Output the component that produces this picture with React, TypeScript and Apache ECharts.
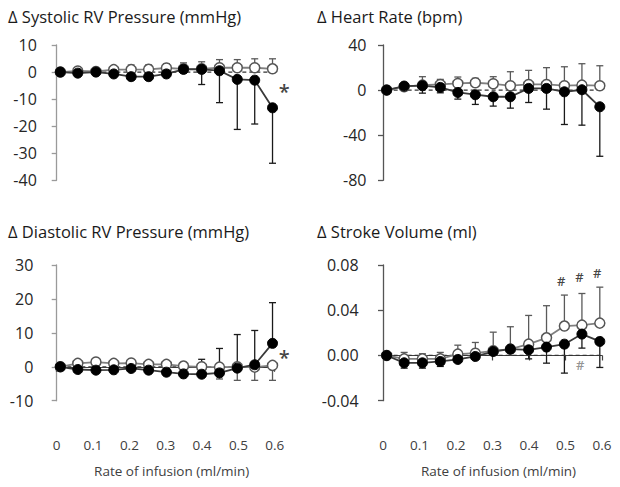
import React, { useEffect, useRef } from "react";
import * as echarts from "echarts";

// x positions of the 13 infusion steps (ml/min)
const xs = [0.01, 0.058, 0.108, 0.157, 0.205, 0.253, 0.302, 0.349, 0.399, 0.448, 0.497, 0.545, 0.594];
const xTicks = [0, 0.1, 0.2, 0.3, 0.4, 0.5, 0.6];

// Δ Systolic RV Pressure (mmHg)
const sysFilled = [0, -0.4, 0, -0.7, -1.7, -1.7, -0.7, 1.0, 1.0, 0.5, -2.7, -3.0, -13.2];
const sysFilledErr = [0, 0.5, 0.6, 0.8, 0.8, 0.8, 0.8, 1.2, 5.6, 11.8, 18.5, 16.2, 20.5];
const sysOpen = [0, 0.4, 0.2, 0.9, 0.9, 1.0, 1.5, 1.2, 1.2, 1.6, 1.6, 1.6, 1.2];
const sysOpenErr = [0, 0.6, 1.4, 1.1, 1.7, 1.6, 1.5, 2.2, 2.6, 3.0, 3.0, 3.3, 3.7];

// Δ Heart Rate (bpm)
const hrFilled = [0, 3.6, 3.9, 2.4, -2.1, -4.1, -5.9, -5.9, 1.5, 1.5, -1.5, 0.3, -14.8];
const hrFilledErr = [0, 2, 6.6, 4.8, 5.9, 8.6, 8.3, 10.1, 12.5, 18.4, 29.0, 31.4, 43.9];
const hrOpen = [0, 3.0, 4.4, 5.0, 5.9, 6.5, 5.6, 3.9, 5.0, 5.0, 3.9, 4.4, 3.9];
const hrOpenErr = [0, 2, 7.5, 4.5, 5.7, 3.9, 6.3, 12.4, 12.5, 14.9, 16.8, 19.0, 17.7];

// Δ Diastolic RV Pressure (mmHg)
const diaFilled = [0, -0.8, -1.0, -0.9, -0.5, -1.0, -1.6, -2.1, -2.2, -1.8, -0.4, 0.6, 6.9];
const diaFilledErr = [0, 0.8, 0.8, 0.8, 0.6, 2.7, 1.0, 1.5, 4.4, 7.2, 9.9, 10.1, 12.0];
const diaOpen = [0, 1.0, 1.4, 1.0, 1.1, 0.7, 0.7, 0.2, 0, -0.1, 0, -0.1, 0.4];
const diaOpenErr = [0, 0.5, 0.5, 0.5, 0.5, 0.5, 0.5, 0.5, 1.0, 3.5, 4.0, 3.9, 4.4];

// Δ Stroke Volume (ml)
const svFilled = [0, -0.0065, -0.0065, -0.0053, -0.0035, -0.0009, 0.0035, 0.0056, 0.005, 0.0074, 0.010, 0.0189, 0.0124];
const svFilledErr = [0, 0.0047, 0.0047, 0.0044, 0.0025, 0.002, 0.002, 0.002, 0.008, 0.0142, 0.0256, 0.0124, 0.023];
const svOpen = [0, -0.003, -0.003, -0.003, 0.0012, 0.002, 0.0041, 0.0056, 0.010, 0.0156, 0.026, 0.0268, 0.0286];
const svOpenErr = [0, 0.0057, 0.0045, 0.0057, 0.0079, 0.0095, 0.0165, 0.0198, 0.0254, 0.0284, 0.0274, 0.028, 0.0318];

// significance marks
const sysStar = [[0.626, -7]];
const diaStar = [[0.626, 2.7]];
const svHashTop = [[0.488, 0.066], [0.538, 0.069], [0.587, 0.073]];
const svHashLow = [[0.54, -0.0085]];

const titles = [
  "Δ Systolic RV Pressure (mmHg)",
  "Δ Heart Rate (bpm)",
  "Δ Diastolic RV Pressure (mmHg)",
  "Δ Stroke Volume (ml)",
];

const FONT = '"Open Sans", sans-serif';

function errorSeries(idx: number, vals: number[], errs: number[], dir: number, color: string) {
  return {
    type: "custom",
    xAxisIndex: idx,
    yAxisIndex: idx,
    silent: true,
    clip: false,
    encode: { x: 0, y: [1, 2] },
    data: xs.map((x, i) => [x, vals[i], vals[i] + dir * errs[i]]),
    renderItem: (params: any, api: any) => {
      const x = api.value(0);
      const p0 = api.coord([x, api.value(1)]);
      const p1 = api.coord([x, api.value(2)]);
      const hw = 3.5;
      const st = { stroke: color, lineWidth: 1.3 };
      return {
        type: "group",
        children: [
          { type: "line", shape: { x1: p0[0], y1: p0[1], x2: p1[0], y2: p1[1] }, style: st },
          { type: "line", shape: { x1: p1[0] - hw, y1: p1[1], x2: p1[0] + hw, y2: p1[1] }, style: st },
        ],
      };
    },
  };
}

function panelSeries(
  idx: number,
  filled: number[],
  filledErr: number[],
  filledDir: number,
  open: number[],
  openErr: number[],
  openDir: number
) {
  return [
    {
      type: "line",
      xAxisIndex: idx,
      yAxisIndex: idx,
      silent: true,
      symbol: "none",
      data: [[xs[0], 0], [xs[xs.length - 1], 0]],
      lineStyle: { color: "#333", width: 1.2, type: [4, 3] },
    },
    errorSeries(idx, open, openErr, openDir, "#5a5a5a"),
    errorSeries(idx, filled, filledErr, filledDir, "#1a1a1a"),
    {
      type: "line",
      xAxisIndex: idx,
      yAxisIndex: idx,
      silent: true,
      data: xs.map((x, i) => [x, open[i]]),
      symbol: "circle",
      symbolSize: 10,
      lineStyle: { color: "#808080", width: 1.8 },
      itemStyle: { color: "#ffffff", borderColor: "#555", borderWidth: 1.5 },
    },
    {
      type: "line",
      xAxisIndex: idx,
      yAxisIndex: idx,
      silent: true,
      data: xs.map((x, i) => [x, filled[i]]),
      symbol: "circle",
      symbolSize: 10,
      lineStyle: { color: "#3a3a3a", width: 1.8 },
      itemStyle: { color: "#000000", borderColor: "#000", borderWidth: 1 },
    },
  ];
}

function markSeries(idx: number, data: number[][], text: string, size: number, color: string) {
  return {
    type: "scatter",
    xAxisIndex: idx,
    yAxisIndex: idx,
    silent: true,
    clip: false,
    symbolSize: 1,
    itemStyle: { color: "rgba(0,0,0,0)" },
    data,
    label: {
      show: true,
      position: "inside",
      formatter: text,
      fontFamily: FONT,
      fontSize: size,
      fontWeight: 600,
      color,
    },
  };
}

export default function App() {
  const ref = useRef<HTMLDivElement>(null);
  useEffect(() => {
    if (!ref.current) return;
    const chart = echarts.init(ref.current, null, { renderer: "svg" });

    const grids = [
      { left: 56.7, top: 45, width: 218, height: 135.3 },
      { left: 383, top: 45, width: 219, height: 135.3 },
      { left: 56.7, top: 265, width: 218, height: 135.7 },
      { left: 383, top: 265, width: 219, height: 135.7 },
    ];

    const yRanges = [
      { min: -40, max: 10, interval: 10, offset: 4.4, margin: 15.5, color: "#9a9a9a", fmt: (v: number) => String(v) },
      { min: -80, max: 40, interval: 40, offset: 6, margin: 10.5, color: "#555555", fmt: (v: number) => String(v) },
      { min: -10, max: 30, interval: 10, offset: 5, margin: 18.4, color: "#9a9a9a", fmt: (v: number) => String(v) },
      { min: -0.04, max: 0.08, interval: 0.04, offset: 6, margin: 18.4, color: "#555555", fmt: (v: number) => v.toFixed(2) },
    ];

    const xAxes = [0, 1, 2, 3].map((i) => {
      if (i < 2) {
        return { gridIndex: i, type: "value", min: 0, max: 0.6, show: false };
      }
      return {
        gridIndex: i,
        type: "value",
        min: xTicks[0],
        max: xTicks[xTicks.length - 1],
        interval: 0.1,
        offset: 22,
        axisLine: { show: true, lineStyle: { color: "#404040", width: 1.2 } },
        axisTick: { show: true, length: 5, lineStyle: { color: "#404040", width: 1.2 } },
        axisLabel: {
          margin: 15,
          fontSize: 13.5,
          fontFamily: FONT,
          color: "#404040",
          formatter: (v: number) => (v === 0 ? "0" : v.toFixed(1)),
        },
        splitLine: { show: false },
        name: "Rate of infusion (ml/min)",
        nameLocation: "middle",
        nameGap: 41.5,
        nameTextStyle: { fontSize: 13.5, fontFamily: FONT, color: "#404040", padding: [0, 0, 0, 12] },
      };
    });

    const yAxes = yRanges.map((r, i) => ({
      gridIndex: i,
      type: "value",
      min: r.min,
      max: r.max,
      interval: r.interval,
      offset: r.offset,
      axisLine: { show: true, lineStyle: { color: r.color, width: 1.3 } },
      axisTick: { show: true, length: 5, lineStyle: { color: r.color, width: 1.3 } },
      axisLabel: { margin: r.margin, fontSize: 16, fontFamily: FONT, color: "#262626", formatter: r.fmt },
      splitLine: { show: false },
    }));

    const titlePos = [
      { left: 8, top: 7.75 },
      { left: 317, top: 7.75 },
      { left: 8, top: 222.75 },
      { left: 317, top: 222.75 },
    ];

    const option: any = {
      animation: false,
      backgroundColor: "#ffffff",
      title: titles.map((t, i) => ({
        text: t,
        left: titlePos[i].left,
        top: titlePos[i].top,
        padding: 0,
        textStyle: { fontFamily: FONT, fontSize: 16.5, fontWeight: "normal", color: "#1a1a1a" },
      })),
      grid: grids,
      xAxis: xAxes,
      yAxis: yAxes,
      series: [
        ...panelSeries(0, sysFilled, sysFilledErr, -1, sysOpen, sysOpenErr, 1),
        ...panelSeries(1, hrFilled, hrFilledErr, -1, hrOpen, hrOpenErr, 1),
        ...panelSeries(2, diaFilled, diaFilledErr, 1, diaOpen, diaOpenErr, -1),
        ...panelSeries(3, svFilled, svFilledErr, -1, svOpen, svOpenErr, 1),
        markSeries(0, sysStar, "*", 20, "#111"),
        markSeries(2, diaStar, "*", 20, "#111"),
        markSeries(3, svHashTop, "#", 13, "#111"),
        markSeries(3, svHashLow, "#", 13, "#777"),
      ],
    };
    chart.setOption(option);
    return () => chart.dispose();
  }, []);

  return (
    <div
      ref={ref}
      style={{ position: "fixed", left: 0, top: 0, width: 620, height: 487, background: "#fff" }}
    />
  );
}
